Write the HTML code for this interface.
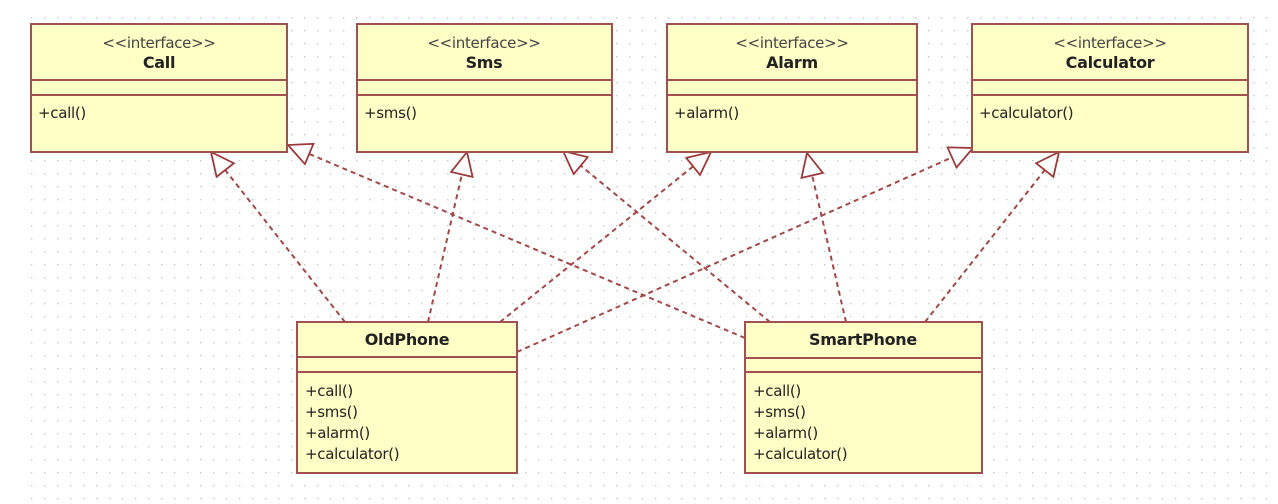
<!DOCTYPE html>
<html><head><meta charset="utf-8"><style>
html,body{margin:0;padding:0;background:#fff;}
svg{display:block;}
text{font-family:"DejaVu Sans","Liberation Sans",sans-serif;font-size:15px;fill:#222;letter-spacing:-0.3px;}
.st{fill:#444;}
.b{font-weight:bold;font-size:16px;}
</style></head><body>
<svg width="1278" height="504" viewBox="0 0 1278 504" xmlns="http://www.w3.org/2000/svg">
<defs>
<pattern id="g" x="5" y="4" width="13" height="13" patternUnits="userSpaceOnUse">
<rect x="0" y="0" width="1.4" height="1.4" fill="#c8c8c8"/>
</pattern>
<marker id="tri" markerWidth="26" markerHeight="26" refX="24" refY="12" orient="auto" markerUnits="userSpaceOnUse">
<path d="M1,1 L24,12 L1,23 Z" fill="#fff" stroke="#9a3a3a" stroke-width="1.8"/>
</marker>
</defs>
<rect x="20" y="10" width="1258" height="494" fill="url(#g)"/>

<g stroke="#a04848" stroke-width="2" stroke-dasharray="5,4" fill="none" marker-end="url(#tri)">
<line x1="345" y1="322" x2="211" y2="152"/>
<line x1="745" y1="338" x2="288" y2="145"/>
<line x1="428" y1="322" x2="467" y2="152"/>
<line x1="770" y1="322" x2="563" y2="151"/>
<line x1="500" y1="322" x2="711" y2="152"/>
<line x1="846" y1="322" x2="807" y2="153"/>
<line x1="517" y1="352" x2="973" y2="148"/>
<line x1="925" y1="322" x2="1059" y2="152"/>
</g>

<g stroke="#a05050" stroke-width="2" fill="#ffffc6">
<rect x="31" y="24" width="256" height="128"/>
<rect x="357" y="24" width="255" height="128"/>
<rect x="667" y="24" width="250" height="128"/>
<rect x="972" y="24" width="276" height="128"/>
<rect x="297" y="322" width="220" height="151"/>
<rect x="745" y="322" width="237" height="151"/>
</g>
<g stroke="#a05050" stroke-width="2">
<line x1="31" y1="80" x2="287" y2="80"/><line x1="31" y1="95" x2="287" y2="95"/>
<line x1="357" y1="80" x2="612" y2="80"/><line x1="357" y1="95" x2="612" y2="95"/>
<line x1="667" y1="80" x2="917" y2="80"/><line x1="667" y1="95" x2="917" y2="95"/>
<line x1="972" y1="80" x2="1248" y2="80"/><line x1="972" y1="95" x2="1248" y2="95"/>
<line x1="297" y1="357" x2="517" y2="357"/><line x1="297" y1="372" x2="517" y2="372"/>
<line x1="745" y1="358" x2="982" y2="358"/><line x1="745" y1="372" x2="982" y2="372"/>
</g>

<g text-anchor="middle">
<text class="st" x="159" y="48">&lt;&lt;interface&gt;&gt;</text>
<text class="b" x="159" y="68">Call</text>
<text class="st" x="484" y="48">&lt;&lt;interface&gt;&gt;</text>
<text class="b" x="484" y="68">Sms</text>
<text class="st" x="792" y="48">&lt;&lt;interface&gt;&gt;</text>
<text class="b" x="792" y="68">Alarm</text>
<text class="st" x="1110" y="48">&lt;&lt;interface&gt;&gt;</text>
<text class="b" x="1110" y="68">Calculator</text>
<text class="b" x="407" y="345">OldPhone</text>
<text class="b" x="863" y="345">SmartPhone</text>
</g>
<text x="38" y="118">+call()</text>
<text x="364" y="118">+sms()</text>
<text x="674" y="118">+alarm()</text>
<text x="979" y="118">+calculator()</text>
<text x="305" y="396">+call()</text>
<text x="305" y="417">+sms()</text>
<text x="305" y="438">+alarm()</text>
<text x="305" y="459">+calculator()</text>
<text x="753" y="396">+call()</text>
<text x="753" y="417">+sms()</text>
<text x="753" y="438">+alarm()</text>
<text x="753" y="459">+calculator()</text>
</svg>
</body></html>
